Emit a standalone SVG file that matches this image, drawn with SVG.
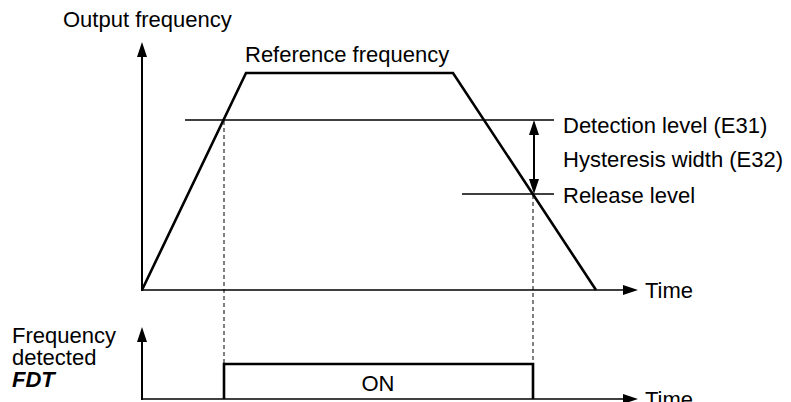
<svg xmlns="http://www.w3.org/2000/svg" width="791" height="402" viewBox="0 0 791 402">
<style>
text{font-family:"Liberation Sans",Arial,sans-serif;font-size:22px;fill:#000}
.ax{stroke:#000;stroke-width:2;fill:none}
.thin{stroke:#000;stroke-width:1.6;fill:none}
.thick{stroke:#000;stroke-width:2.6;fill:none;stroke-linejoin:miter}
.dash{stroke:#000;stroke-width:1;stroke-dasharray:4 3;fill:none}
.ah{fill:#000}
</style>
<rect width="791" height="402" fill="#fff"/>
<g id="connectors">
  <!-- upper axes -->
  <line class="ax" x1="142" y1="291" x2="142" y2="55"/>
  <polygon class="ah" points="142,42 137,57 147,57"/>
  <line class="thin" x1="142" y1="290" x2="625" y2="290"/>
  <polygon class="ah" points="638,290 623,285 623,295"/>
  <!-- levels -->
  <line class="thin" x1="185" y1="120" x2="554" y2="120"/>
  <line class="thin" x1="462" y1="194" x2="554" y2="194"/>
  <!-- hysteresis arrow -->
  <line class="ax" x1="534" y1="132" x2="534" y2="182"/>
  <polygon class="ah" points="534,120 529,135 539,135"/>
  <polygon class="ah" points="534,194 529,179 539,179"/>
  <!-- dashed guides -->
  <line class="dash" x1="224" y1="121" x2="224" y2="364"/>
  <line class="dash" x1="533" y1="195" x2="533" y2="364"/>
  <!-- lower axes -->
  <line class="ax" x1="142" y1="400" x2="142" y2="340"/>
  <polygon class="ah" points="142,327 137,342 147,342"/>
  <line class="thin" x1="142" y1="399" x2="625" y2="399"/>
  <polygon class="ah" points="638,399 623,394 623,404"/>
</g>
<g id="output-curve">
  <polyline class="thick" points="142,290 246,73 453,73 596,290"/>
</g>
<g id="fdt-pulse">
  <polyline class="thick" points="224,399 224,364 533,364 533,399"/>
  <text x="378" y="391" text-anchor="middle">ON</text>
</g>
<g id="labels">
  <text x="63" y="27">Output frequency</text>
  <text x="245" y="62">Reference frequency</text>
  <text x="563" y="133">Detection level (E31)</text>
  <text x="563" y="167">Hysteresis width (E32)</text>
  <text x="563" y="203">Release level</text>
  <text x="645" y="298">Time</text>
  <text x="645" y="407">Time</text>
  <text x="12" y="343">Frequency</text>
  <text x="12" y="365">detected</text>
  <text x="12" y="387" font-weight="bold" font-style="italic">FDT</text>
</g>
</svg>
